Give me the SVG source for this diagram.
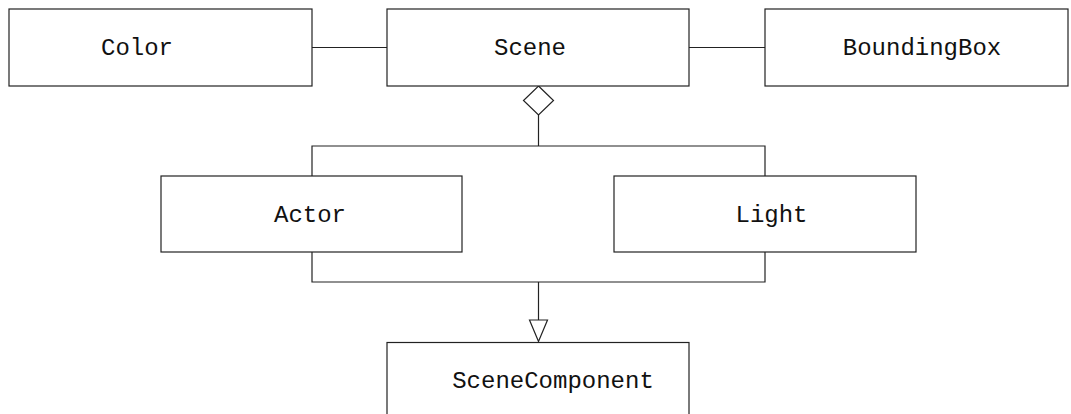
<svg xmlns="http://www.w3.org/2000/svg" width="1071" height="414" viewBox="0 0 1071 414">
  <style>
    .box { fill: #ffffff; stroke: #222222; stroke-width: 1.2; }
    .lbl { font-family: "Liberation Mono", "DejaVu Sans Mono", monospace; font-size: 24px; fill: #111111; text-anchor: middle; }
    .edge { fill: none; stroke: #222222; stroke-width: 1.2; }
    .head { fill: #ffffff; stroke: #222222; stroke-width: 1.2; }
  </style>
  <rect width="1071" height="414" fill="#ffffff"/>

  <!-- associations, aggregation and generalization -->
  <g id="connectors">
    <line class="edge" x1="312" y1="47.5" x2="387" y2="47.5"/>
    <line class="edge" x1="689" y1="47.5" x2="765" y2="47.5"/>
    <!-- Scene aggregates Actor and Light -->
    <polyline class="edge" points="538.5,115 538.5,146"/>
    <polyline class="edge" points="312,176 312,146 765,146 765,176"/>
    <polygon class="head" points="538.5,86 553.5,100.5 538.5,115 523.5,100.5"/>
    <!-- Actor and Light specialize SceneComponent -->
    <polyline class="edge" points="312,252 312,282 765,282 765,252"/>
    <line class="edge" x1="538.5" y1="282" x2="538.5" y2="320"/>
    <polygon class="head" points="529.5,320 547.5,320 538.5,341.5"/>
  </g>

  <g id="color">
    <rect class="box" x="9" y="9" width="303" height="77"/>
    <text class="lbl" x="137" y="55">Color</text>
  </g>
  <g id="scene">
    <rect class="box" x="387" y="9" width="302" height="77"/>
    <text class="lbl" x="530" y="55">Scene</text>
  </g>
  <g id="boundingbox">
    <rect class="box" x="765" y="9" width="303" height="77"/>
    <text class="lbl" x="922" y="55">BoundingBox</text>
  </g>
  <g id="actor">
    <rect class="box" x="161" y="176" width="301" height="76"/>
    <text class="lbl" x="310" y="222">Actor</text>
  </g>
  <g id="light">
    <rect class="box" x="614" y="176" width="302" height="76"/>
    <text class="lbl" x="771.5" y="222">Light</text>
  </g>
  <g id="scenecomponent">
    <rect class="box" x="387" y="342.5" width="302" height="80"/>
    <text class="lbl" x="553" y="388">SceneComponent</text>
  </g>
</svg>
